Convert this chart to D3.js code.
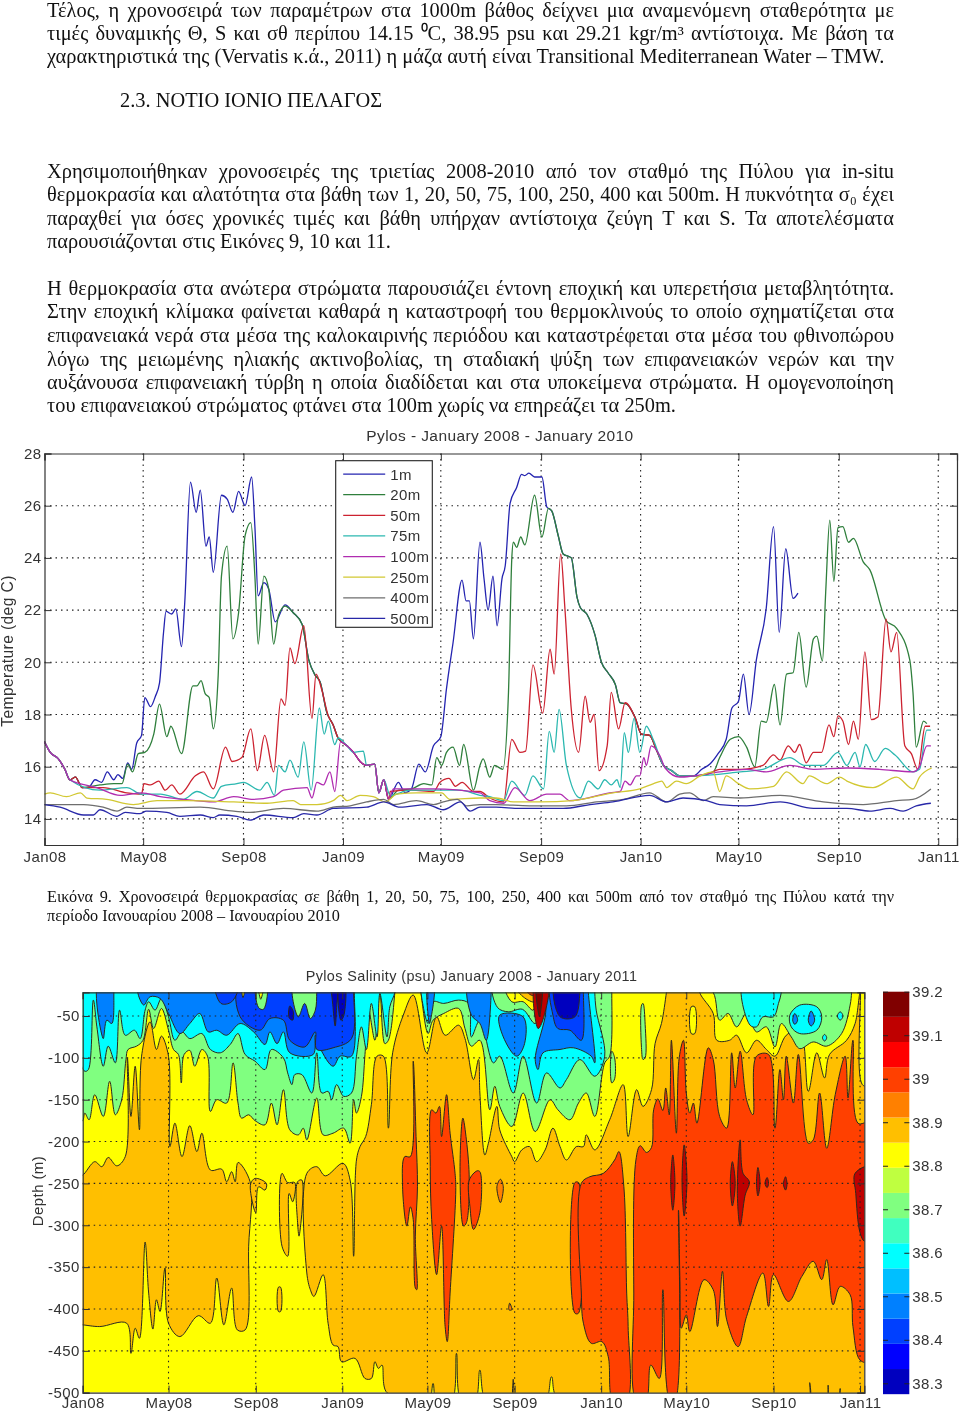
<!DOCTYPE html>
<html>
<head>
<meta charset="utf-8">
<script src="https://cdn.jsdelivr.net/npm/d3@7"></script>
<style>
body { margin: 0; background: #fff; }
svg { display: block; filter: blur(0.35px); }
.serif { font-family: "Liberation Serif", serif; fill: #111; }
.sans { font-family: "Liberation Sans", sans-serif; fill: #333; font-size: 15px; letter-spacing: 0.4px; }
</style>
</head>
<body>
<div id="page"></div>
<script>
///////////////////////////////////////////////////////////////////////////
//////////////////////////// Page text ////////////////////////////////////
///////////////////////////////////////////////////////////////////////////

var bodyLines = [
	[17, "Τέλος, η χρονοσειρά των παραμέτρων στα 1000m βάθος δείχνει μια αναμενόμενη σταθερότητα με", 1],
	[40, "τιμές δυναμικής Θ, S και σθ περίπου 14.15 ⁰C, 38.95 psu και 29.21 kgr/m³ αντίστοιχα. Με βάση τα", 1],
	[63, "χαρακτηριστικά της (Vervatis κ.ά., 2011) η μάζα αυτή είναι Transitional Mediterranean Water – TMW.", 0],
	[178, "Χρησιμοποιήθηκαν χρονοσειρές της τριετίας 2008-2010 από τον σταθμό της Πύλου για in-situ", 1],
	[201, "θερμοκρασία και αλατότητα στα βάθη των 1, 20, 50, 75, 100, 250, 400 και 500m. Η πυκνότητα σ₀ έχει", 1],
	[225, "παραχθεί για όσες χρονικές τιμές και βάθη υπήρχαν αντίστοιχα ζεύγη Τ και S. Τα αποτελέσματα", 1],
	[248, "παρουσιάζονται στις Εικόνες 9, 10 και 11.", 0],
	[295, "Η θερμοκρασία στα ανώτερα στρώματα παρουσιάζει έντονη εποχική και υπερετήσια μεταβλητότητα.", 1],
	[318, "Στην εποχική κλίμακα φαίνεται καθαρά η καταστροφή του θερμοκλινούς το οποίο σχηματίζεται στα", 1],
	[342, "επιφανειακά νερά στα μέσα της καλοκαιρινής περιόδου και καταστρέφεται στα μέσα του φθινοπώρου", 1],
	[366, "λόγω της μειωμένης ηλιακής ακτινοβολίας, τη σταδιακή ψύξη των επιφανειακών νερών και την", 1],
	[389, "αυξάνουσα επιφανειακή τύρβη η οποία διαδίδεται και στα υποκείμενα στρώματα. Η ομογενοποίηση", 1],
	[412, "του επιφανειακού στρώματος φτάνει στα 100m χωρίς να επηρεάζει τα 250m.", 0]
];
var captionLines = [
	[902, "Εικόνα 9. Χρονοσειρά θερμοκρασίας σε βάθη 1, 20, 50, 75, 100, 250, 400 και 500m από τον σταθμό της Πύλου κατά την", 1],
	[921, "περίοδο Ιανουαρίου 2008 – Ιανουαρίου 2010", 0]
];

///////////////////////////////////////////////////////////////////////////
////////////////////////// Shared axis data ///////////////////////////////
///////////////////////////////////////////////////////////////////////////

//days since 1 Jan 2008
var monthDays = [0, 121, 244, 366, 486, 609, 731, 851, 974, 1096],
	monthLabels = ["Jan08", "May08", "Sep08", "Jan09", "May09", "Sep09", "Jan10", "May10", "Sep10", "Jan11"];

///////////////////////////////////////////////////////////////////////////
///////////////////////// Temperature series //////////////////////////////
///////////////////////////////////////////////////////////////////////////

//[day, deg C] stretches where the mixed layer makes the depths run together
var winter08 = [[0,16.96],[7,16.55],[17,16.3],[25,15.9],[31,15.5],[38,15.6],[46,15.2]];
var cooling08 = [[324,20.1],[332,19.5],[338,19.25],[346,18.1],[354,17.6],[360,17.1]];
var winter09 = [[371,16.8],[379,16.55],[387,16.2],[395,16.05],[405,16.1],[410,15],[416,15.5],[422,14.75]];
var cooling09 = [[646,24],[653,22.5],[657,22.1],[665,21.85],[675,21.05],[683,20],[691,19.6],[700,19.15],[706,18.45],[714,18.4]];
var coolEnd09 = [[724,17.9],[732,17.25],[742,17.2],[751,16.6],[759,16.05]];
var winter10 = [[769,15.85],[779,15.65],[796,15.65]];

var temp1m = [...winter08,[54,15.2],[62,15.5],[70,15.4],[77,15.8],[85,15.5],[90,15.7],[96,15.55],[102,16.15],[107,15.9],[113,16.9],[119,17.2],[123,18.65],[130,18.3],[136,18.7],[141,19.2],[146,21.15],[149,21.95],[156,21.85],[161,22.05],[168,20.6],[172,22.3],[179,26.9],[186,25.75],[191,26.6],[198,24.45],[202,24.8],[207,23.45],[217,26.4],[224,26.25],[231,25.75],[238,26.55],[246,26],[254,27.1],[258,25.2],[262,22.55],[269,23.05],[275,22.8],[283,21.55],[295,22.2],[305,21.9],[316,21.45],...cooling08,...winter09,[434,15.4],[442,15],[450,15.15],[459,16.1],[467,15.8],[477,16.8],[486,17.15],[493,19],[501,20.75],[512,23.15],[517,22.35],[521,22.35],[526,20.9],[534,24.6],[539,23.2],[544,22],[550,23.3],[555,21.4],[561,23.2],[565,23.7],[571,26.1],[579,26.7],[585,27.2],[589,27.15],[594,27.25],[601,27.1],[610,27.1],[616,25.95],[622,25.8],[630,24.85],[636,24.15],...cooling09,...coolEnd09,...winter10,[806,15.9],[816,16.1],[826,16.5],[836,17.05],[843,18.25],[851,18.5],[857,19.55],[864,18],[873,20.1],[885,22.05],[894,25.2],[901,21.15],[909,24.35],[918,22.45],[924,22.65]];

var temp20m = [...winter08,[68,15.3],[85,15.35],[95,15.35],[102,16.1],[108,15.8],[115,16.5],[123,16.55],[134,17.25],[141,18.4],[150,17.15],[155,17.55],[168,16.5],[182,19.1],[187,19.1],[192,19.3],[197,18.8],[202,18.65],[207,17.45],[213,19.5],[217,23.3],[224,24.45],[231,20.9],[238,21.9],[246,24.85],[253,25.35],[258,23.3],[262,20.7],[269,23.3],[275,22.8],[281,20.7],[287,21.8],[295,22.15],[305,21.9],[316,21.45],...cooling08,...winter09,[434,15.1],[450,15.15],[465,15.35],[475,15.3],[481,16.35],[487,16.05],[493,16.55],[501,16.75],[509,16.05],[514,16.85],[526,15.1],[534,16.05],[538,16.3],[546,15.6],[552,16.05],[562,15.9],[569,18.85],[573,23.95],[575,24.6],[579,24.4],[584,24.8],[589,24.5],[601,26.4],[610,24.8],[618,25.9],[622,25.8],[630,24.85],[636,24.15],...cooling09,...coolEnd09,...winter10,[820,15.8],[828,16.35],[841,17.05],[851,17.15],[861,16.75],[871,16],[879,17.75],[885,17.7],[895,19.15],[902,17.6],[910,19.55],[918,19.6],[925,21.15],[934,19.05],[943,20.9],[947,21],[954,20.05],[958,22.7],[963,25.45],[968,23.1],[973,25.15],[979,25.2],[986,24.6],[992,24.75],[1004,23.85],[1012,23.55],[1032,21.6],[1045,21.3],[1061,20.1],[1065,18.85],[1069,16.75],[1078,17.75],[1082,17.65]];

var temp50m = [...winter08,[56,15.2],[72,15.2],[101,15],[119,14.95],[122,15.35],[130,15.3],[140,15.45],[148,15.1],[156,15.3],[166,14.95],[185,15.65],[195,15.8],[207,15.15],[222,16.75],[230,16.2],[242,16.35],[253,17.45],[261,15.85],[270,17.2],[281,15.8],[290,18.6],[295,18.35],[301,20.55],[307,19.95],[318,21.4],[328,17.85],[333,19.55],[340,18.95],[348,17.95],...cooling08.slice(4),...winter09,[424,15.05],[450,15.1],[477,15.05],[485,15.4],[496,15.55],[504,15.25],[512,15.4],[526,15.05],[534,15.05],[546,14.8],[563,14.65],[573,17.05],[583,16.55],[590,16.6],[599,19.9],[611,18.05],[620,20.5],[625,19.55],[633,24.15],[638,22.15],[646,18.2],[655,16.55],[663,18.7],[669,17.7],[674,18],[680,15.85],[690,16.8],[695,18.85],[704,17.45],[712,18.45],...coolEnd09,...winter10,[812,15.7],[828,15.9],[853,15.9],[881,16.05],[894,16.45],[902,16.25],[912,16.8],[920,16.55],[926,16.85],[934,16.15],[943,16.55],[953,16.55],[962,17.6],[968,17.15],[973,17.95],[979,17.75],[986,16.85],[992,17.75],[998,17.05],[1006,20.4],[1014,17.8],[1022,17.9],[1032,21.65],[1038,20.4],[1045,21.15],[1055,16.8],[1063,16.5],[1071,15.9],[1080,17.55],[1086,17.55]];

var temp75m = [...winter08.slice(0,5),[68,15.1],[101,15.2],[119,14.95],[142,14.95],[170,14.75],[187,15.05],[207,14.8],[217,15.25],[236,15.35],[244,15.4],[264,15.1],[273,15.4],[282,14.9],[287,16.05],[295,15.8],[301,16.25],[311,15.6],[318,16.95],[327,15.1],[337,18.25],[343,17.25],[348,17.75],[356,16.85],[360,17.1],[371,16.8],[379,16.55],[391,16.6],[395,16.05],[405,16.1],[410,15],[416,15.5],[424,14.9],[448,15.1],[485,15.1],[510,15.1],[534,14.9],[546,14.85],[563,14.7],[573,15.45],[589,14.9],[599,15.65],[612,15.15],[619,17.35],[625,16.55],[631,18.2],[640,16.05],[657,14.8],[667,15.45],[679,15.15],[687,15.5],[695,15.3],[702,15.5],[706,15.2],[711,17.3],[716,16.55],[723,17.85],[730,16.55],[738,17.55],[747,17],[759,16.05],...winter10,[853,15.8],[881,15.9],[914,16.35],[932,16.05],[955,16.05],[973,16.55],[984,16.05],[994,16.55],[1000,16],[1007,16.85],[1018,16.2],[1031,16.7],[1043,16.45],[1065,15.8],[1073,15.9],[1082,17.4],[1087,17.4]];

var temp100m = [...winter08.slice(0,5),[64,15.2],[93,14.9],[119,15],[142,14.85],[170,14.75],[207,14.65],[232,14.85],[256,14.75],[281,14.85],[293,15.1],[322,15.2],[328,14.8],[334,15.4],[342,15.3],[350,15.8],[356,15.05],[363,16.95],...winter09,[428,15.15],[477,15.15],[534,15],[546,14.7],[563,14.6],[577,15.2],[595,14.7],[616,14.95],[632,14.95],[644,14.7],[673,14.85],[693,15],[706,15.05],[712,15.45],[718,15.3],[726,15.65],[730,15.65],[735,16.35],[738,16.05],[744,16.8],[755,16.4],[761,15.95],[779,15.6],[796,15.65],[828,15.8],[861,15.9],[885,15.8],[914,16.05],[943,15.9],[984,15.95],[1024,15.9],[1065,15.8],[1073,16],[1082,16.8],[1087,16.8]];

var temp250m = [[0,14.95],[7,15],[27,14.85],[44,15],[52,14.8],[76,14.75],[109,14.55],[138,14.7],[175,14.7],[232,14.65],[273,14.6],[305,14.7],[314,14.55],[334,14.55],[354,14.7],[363,14.9],[371,14.7],[387,14.9],[403,14.85],[418,14.65],[432,14.95],[456,15],[487,15],[497,14.75],[534,14.8],[554,14.8],[575,14.65],[608,14.65],[648,14.7],[697,15],[730,15.15],[747,15.35],[757,15.45],[763,15.2],[775,15.45],[787,15.35],[804,15.65],[820,15.8],[828,15.05],[836,15.65],[851,15.35],[865,15.15],[894,15.25],[910,15.8],[930,15.35],[938,15.65],[959,15.35],[975,15.6],[984,15.45],[1016,15.2],[1045,15.6],[1065,15.15],[1073,15.6],[1088,15.95]];

var temp400m = [[0,14.55],[48,14.55],[72,14.45],[89,14.3],[101,14.45],[117,14.4],[191,14.45],[232,14.3],[252,14.25],[293,14.4],[334,14.3],[354,14.45],[375,14.5],[395,14.65],[416,14.75],[428,14.55],[456,14.7],[477,14.55],[489,14.65],[506,14.75],[518,14.5],[534,14.55],[554,14.55],[595,14.5],[640,14.5],[677,14.65],[710,14.75],[742,15],[763,14.65],[779,14.95],[791,15],[808,14.7],[820,14.85],[853,14.8],[902,14.9],[955,14.65],[1004,14.55],[1045,14.7],[1065,14.75],[1087,15.15]];

var temp500m = [[0,14.55],[19,14.45],[48,14.15],[60,14.15],[68,14.35],[89,14.1],[99,14.25],[117,14.2],[125,14.3],[150,14.25],[166,14.1],[191,14.15],[207,14.05],[215,14.15],[236,14.1],[252,13.95],[269,14.15],[305,14.05],[318,14.2],[334,14.15],[354,14.4],[395,14.45],[416,14.65],[436,14.45],[469,14.55],[489,14.35],[510,14.65],[522,14.3],[534,14.45],[554,14.45],[583,14.4],[636,14.4],[669,14.55],[697,14.65],[742,14.9],[763,14.65],[783,14.8],[812,14.7],[828,14.55],[861,14.5],[902,14.65],[943,14.4],[984,14.4],[1012,14.3],[1037,14.4],[1053,14.3],[1069,14.5],[1087,14.6]];

var depthNames = ["1m", "20m", "50m", "75m", "100m", "250m", "400m", "500m"],
	depthSeries = [temp1m, temp20m, temp50m, temp75m, temp100m, temp250m, temp400m, temp500m],
	depthColors = ["#2424b0", "#2f7f3c", "#cc2230", "#2cb8b0", "#b02cb0", "#d2c832", "#6e6e6e", "#2828a8"],
	tempTicks = [14, 16, 18, 20, 22, 24, 26, 28];

///////////////////////////////////////////////////////////////////////////
///////////////////////// Salinity isohalines /////////////////////////////
///////////////////////////////////////////////////////////////////////////

//Outlines as [day, depth], points outside the axes are clipped away
var amberBlockA = [[-5,-240],[0,-240],[17,-224],[27,-230],[36,-219],[48,-229],[60,-218],[63,-100],[68,-170],[74,-110],[80,-186],[83,-98],[95,-57],[104,-90],[111,-74],[121,-98],[123,-206],[130,-178],[140,-218],[151,-181],[161,-212],[168,-190],[180,-234],[196,-233],[203,-248],[210,-236],[215,-248],[219,-225],[236,-248],[234,-325],[229,-425],[218,-425],[210,-375],[199,-419],[189,-363],[180,-417],[163,-408],[137,-433],[121,-417],[116,-351],[109,-403],[104,-389],[99,-424],[93,-381],[88,-320],[80,-435],[74,-423],[68,-453],[62,-417],[24,-421],[0,-419],[-5,-419]];
var amberSmallA = [[237,-250],[243,-244],[259,-250],[257,-258],[248,-254],[244,-285],[237,-262]];
var amberSmallB = [[281,-238],[289,-249],[299,-249],[296,-272],[291,-262],[289,-337],[281,-325]];
var amberSmallC = [[303,-248],[309,-246],[305,-313],[303,-297]];
var amberSmallD = [[276,-374],[279,-374],[279,-403],[276,-403]];
var amberBlockB = [[316,-238],[330,-230],[342,-241],[367,-226],[377,-246],[382,-337],[386,-222],[391,-206],[399,-194],[407,-156],[415,-98],[424,-98],[431,-184],[437,-94],[452,-49],[466,-25],[485,-94],[499,-51],[511,-73],[530,-61],[539,-77],[551,-126],[558,-102],[560,-142],[567,-216],[572,-202],[584,-158],[588,-186],[605,-218],[609,-224],[619,-210],[630,-206],[640,-224],[652,-210],[663,-184],[673,-206],[682,-222],[696,-206],[706,-206],[710,-192],[722,-210],[743,-174],[762,-132],[769,-194],[781,-138],[790,-158],[802,-138],[807,-83],[816,-59],[823,-22],[825,-10],[870,-10],[870,-22],[889,-47],[894,-79],[912,-79],[922,-73],[936,-94],[950,-79],[964,-90],[976,-98],[992,-73],[1011,-67],[1023,-140],[1035,-94],[1046,-124],[1053,-96],[1077,-79],[1089,-59],[1096,-23],[1098,-130],[1110,-140],[1110,-510],[1070,-510],[1068,-495],[1065,-510],[1053,-510],[1051,-491],[1049,-510],[1029,-510],[1025,-488],[1023,-510],[672,-510],[661,-481],[652,-510],[609,-510],[607,-484],[605,-510],[569,-510],[560,-473],[553,-510],[534,-510],[527,-453],[520,-510],[499,-510],[494,-489],[487,-510],[429,-500],[422,-467],[417,-471],[412,-463],[407,-483],[398,-483],[384,-459],[365,-463],[360,-445],[353,-443],[346,-417],[339,-359],[326,-385],[321,-377],[316,-357]];
var yellowOval = [[858,-39],[863,-39],[863,-71],[858,-71]];

var redFingerA = [[466,-104],[470,-194],[472,-254],[469,-313],[471,-377],[469,-375],[466,-293],[462,-278],[457,-301],[451,-254],[454,-218],[462,-218]];
var redFingerB = [[492,-162],[498,-166],[503,-158],[506,-194],[513,-144],[518,-190],[525,-238],[526,-258],[518,-381],[514,-439],[511,-421],[506,-301],[499,-359],[492,-293],[490,-230]];
var redFingerC = [[536,-172],[541,-198],[545,-246],[541,-297],[537,-301],[532,-234]];
var redFingerD = [[545,-246],[556,-235],[560,-236],[560,-285],[551,-305],[546,-278]];
var orangeOval = [[584,-254],[589,-245],[593,-254],[589,-273]];
var orangeDot = [[602,-393],[605,-401],[601,-401]];
var redSliver = [[694,-249],[699,-249],[699,-405],[694,-405]];
var redBlockA = [[703,-250],[715,-242],[734,-238],[750,-222],[756,-212],[763,-254],[767,-381],[769,-421],[767,-510],[748,-510],[741,-457],[732,-439],[717,-441],[706,-417],[703,-381]];
var redBlockB = [[780,-222],[786,-205],[795,-213],[802,-207],[805,-162],[811,-149],[818,-163],[822,-136],[827,-168],[830,-79],[837,-190],[841,-100],[847,-79],[851,-142],[856,-166],[861,-154],[866,-178],[882,-88],[889,-102],[898,-170],[908,-184],[915,-94],[920,-136],[927,-92],[936,-150],[945,-168],[950,-98],[967,-96],[976,-184],[983,-114],[988,-150],[992,-98],[1002,-154],[1009,-96],[1023,-202],[1030,-198],[1039,-142],[1049,-208],[1061,-144],[1075,-98],[1079,-148],[1086,-79],[1093,-178],[1110,-178],[1110,-463],[1096,-461],[1086,-421],[1082,-383],[1068,-373],[1058,-395],[1049,-341],[1042,-365],[1030,-343],[1014,-361],[995,-391],[974,-359],[967,-397],[959,-357],[936,-409],[924,-445],[908,-413],[902,-355],[895,-421],[889,-377],[876,-365],[856,-427],[851,-407],[844,-423],[842,-365],[840,-282],[835,-510],[828,-510],[818,-377],[813,-483],[801,-467],[794,-510],[781,-510],[777,-381]];

var darkA = [[832,-216],[835,-250],[832,-282],[829,-250]];
var darkB = [[848,-204],[852,-246],[848,-289],[845,-246]];
var darkC = [[916,-224],[920,-250],[916,-277],[913,-250]];
var darkD = [[927,-198],[931,-238],[940,-248],[934,-264],[927,-301],[923,-262]];
var darkE = [[952,-231],[955,-250],[952,-265],[950,-250]];
var darkF = [[965,-243],[967,-250],[965,-255],[962,-250]];
var darkG = [[991,-242],[993,-251],[991,-258],[988,-251]];
var darkH = [[1110,-230],[1089,-238],[1090,-262],[1096,-309],[1102,-319],[1110,-319]];

var mintMain = [[-5,-10],[-5,-176],[0,-175],[3,-166],[9,-174],[17,-144],[29,-170],[38,-128],[46,-168],[55,-150],[61,-102],[64,-90],[76,-86],[85,-79],[93,-42],[100,-65],[111,-41],[121,-67],[128,-90],[135,-96],[139,-130],[143,-96],[151,-91],[158,-110],[168,-90],[176,-98],[180,-164],[189,-150],[203,-154],[212,-106],[219,-154],[224,-172],[234,-168],[243,-175],[257,-180],[266,-154],[274,-180],[283,-138],[292,-186],[304,-192],[311,-184],[316,-198],[330,-148],[339,-192],[353,-190],[368,-184],[377,-202],[382,-150],[386,-166],[393,-146],[398,-96],[403,-43],[412,-79],[419,-23],[426,-83],[431,-79],[440,-23],[441,-10]];
var mintMiddle = [[475,-10],[477,-23],[487,-71],[494,-55],[509,-47],[530,-41],[539,-65],[548,-86],[560,-79],[574,-162],[581,-134],[588,-158],[605,-182],[621,-142],[638,-188],[659,-150],[670,-162],[687,-174],[699,-154],[710,-142],[722,-170],[736,-106],[743,-98],[746,-22],[746,-10]];
var mintRight = [[870,-10],[889,-22],[898,-55],[910,-47],[922,-63],[936,-47],[950,-69],[964,-63],[976,-87],[985,-59],[999,-75],[1011,-89],[1030,-81],[1049,-86],[1070,-71],[1082,-37],[1084,-22],[1084,-10]];
var mintOvalA = [[746,-92],[750,-100],[750,-125],[746,-130],[744,-110]];
var mintOvalB = [[788,-37],[790,-35],[793,-60],[793,-100],[790,-102],[788,-90]];

var cyanLeft = [[-5,-10],[-5,-100],[3,-116],[8,-114],[15,-31],[20,-63],[29,-110],[36,-86],[46,-106],[52,-43],[60,-73],[73,-67],[81,-77],[88,-43],[93,-33],[102,-43],[111,-29],[121,-51],[130,-79],[140,-69],[151,-77],[168,-71],[180,-90],[194,-94],[208,-84],[219,-71],[229,-96],[243,-104],[257,-114],[266,-90],[283,-100],[289,-118],[295,-132],[299,-120],[309,-120],[323,-142],[330,-94],[337,-142],[346,-140],[351,-150],[358,-132],[368,-146],[379,-142],[386,-98],[393,-63],[400,-90],[407,-35],[415,-75],[419,-23],[429,-75],[433,-39],[440,-22],[440,-10]];
var cyanMiddle = [[477,-10],[477,-22],[487,-59],[494,-33],[509,-35],[530,-31],[544,-35],[548,-75],[560,-55],[579,-106],[588,-98],[607,-142],[621,-98],[640,-154],[654,-118],[673,-136],[682,-126],[701,-102],[722,-122],[736,-98],[724,-43],[722,-22],[722,-10]];
var cyanRight = [[931,-10],[941,-61],[950,-63],[959,-51],[974,-51],[981,-35],[985,-22],[985,-10]];
var cyanBlob = [[997,-49],[1011,-37],[1035,-39],[1042,-51],[1035,-67],[1011,-71],[999,-63]];
var cyanDotA = [[1068,-45],[1072,-50],[1068,-55],[1064,-50]];
var cyanDotB = [[1046,-72],[1049,-76],[1046,-80],[1043,-76]];

var blueA = [[22,-10],[29,-77],[34,-55],[41,-59],[44,-22],[44,-10]];
var blueB = [[79,-10],[86,-37],[95,-27],[109,-29],[121,-47],[137,-71],[151,-59],[165,-47],[177,-69],[189,-67],[203,-73],[222,-59],[241,-69],[257,-84],[264,-69],[274,-83],[283,-69],[292,-94],[325,-96],[328,-73],[335,-89],[353,-110],[363,-98],[379,-98],[383,-22],[383,-10]];
var blueC = [[487,-10],[489,-59],[495,-10]];
var blueD = [[544,-10],[548,-49],[560,-59],[569,-79],[576,-22],[576,-10]];
var blueE = [[588,-49],[621,-51],[623,-83],[612,-98],[593,-75]];
var blueF = [[659,-10],[652,-51],[638,-102],[642,-114],[649,-94],[673,-90],[692,-88],[717,-98],[722,-106],[713,-22],[713,-10]];
var blueDotA = [[1004,-47],[1008,-55],[1004,-60],[1001,-55]];
var blueDotB = [[1027,-44],[1032,-55],[1027,-62],[1023,-55]];

var deepBlueA = [[222,-10],[222,-51],[250,-67],[264,-53],[283,-55],[292,-79],[313,-87],[328,-69],[330,-90],[353,-88],[379,-77],[382,-22],[382,-10]];
var deepBlueB = [[187,-10],[195,-35],[210,-33],[220,-10]];
var deepBlueC = [[661,-10],[663,-49],[670,-65],[687,-67],[703,-79],[706,-22],[706,-10]];

var navyA = [[352,-10],[353,-40],[356,-62],[358,-40],[359,-10]];
var navyB = [[362,-10],[364,-55],[368,-50],[369,-10]];
var navyC = [[292,-38],[297,-45],[296,-55],[291,-52]];
var navyD = [[666,-10],[673,-51],[694,-51],[701,-22],[701,-10]];

//saltier water pushing in at the top of the section
var mintTopA = [[297,-10],[304,-51],[313,-35],[321,-53],[328,-43],[330,-22],[330,-10]];
var mintTopB = [[245,-10],[248,-40],[255,-42],[259,-10]];
var mintTopC = [[579,-10],[585,-40],[600,-45],[620,-42],[638,-59],[649,-22],[649,-10]];
var yellowTopA = [[224,-10],[226,-28],[229,-10]];
var yellowTopB = [[248,-10],[251,-30],[255,-10]];
var yellowTopC = [[595,-10],[605,-33],[621,-33],[635,-43],[640,-10]];
var amberTop = [[607,-10],[621,-27],[638,-33],[641,-10]];
var redTop = [[621,-10],[630,-24],[638,-25],[640,-10]];
var darkTop = [[638,-10],[642,-65],[647,-59],[656,-10]];
var maroonTop = [[640,-10],[644,-51],[647,-10]];

//painting order, low water is laid over the deep core
var salLevels = [38.9,38.9,38.9,38.9,38.9,38.9,38.8,
	39,39,39,39,38.95,38.95,39,39,39,
	39.1,39.1,39.1,39.1,39.1,39.1,39.1,39.1,
	38.7,38.7,38.7,38.7,38.7,
	38.6,38.6,38.6,38.6,38.6,38.6,
	38.5,38.5,38.5,38.5,38.5,38.5,38.5,38.5,
	38.4,38.4,38.4,
	38.3,38.3,38.3,38.3,
	38.7,38.7,38.7,38.8,38.8,38.8,38.9,39,39.1,39.19];
var salOutlines = [amberBlockA,amberSmallA,amberSmallB,amberSmallC,amberSmallD,amberBlockB,yellowOval,
	redFingerA,redFingerB,redFingerC,redFingerD,orangeOval,orangeDot,redSliver,redBlockA,redBlockB,
	darkA,darkB,darkC,darkD,darkE,darkF,darkG,darkH,
	mintMain,mintMiddle,mintRight,mintOvalA,mintOvalB,
	cyanLeft,cyanMiddle,cyanRight,cyanBlob,cyanDotA,cyanDotB,
	blueA,blueB,blueC,blueD,blueE,blueF,blueDotA,blueDotB,
	deepBlueA,deepBlueB,deepBlueC,
	navyA,navyB,navyC,navyD,
	mintTopA,mintTopB,mintTopC,yellowTopA,yellowTopB,yellowTopC,amberTop,redTop,darkTop,maroonTop];

var salBackground = 38.8,
	jetColors = ["#0000bf","#0000ff","#0040ff","#0080ff","#00bfff","#00ffff","#40ffbf","#80ff80","#bfff40","#ffff00","#ffbf00","#ff8000","#ff4000","#ff0000","#bf0000","#800000"],
	depthTicks = [-50,-100,-150,-200,-250,-300,-350,-400,-450,-500],
	salTicks = [38.3,38.4,38.5,38.6,38.7,38.8,38.9,39,39.1,39.2];

///////////////////////////////////////////////////////////////////////////
/////////////////////////// Draw the page /////////////////////////////////
///////////////////////////////////////////////////////////////////////////

var svg = d3.select("#page").append("svg")
	.attr("width", 960)
	.attr("height", 1415);

svg.append("rect").attr("width", 960).attr("height", 1415).attr("fill", "#fff");

//Justified lines get their word gaps stretched to the text block width
function writeLines(lines, size) {
	var blockLeft = 47, blockWidth = 847;
	lines.forEach(function(d) {
		var t = svg.append("text")
			.attr("class", "serif")
			.attr("x", blockLeft)
			.attr("y", d[0])
			.style("font-size", size + "px")
			.text(d[1]);
		if (d[2]) {
			var gaps = d[1].split(" ").length - 1,
				extra = (blockWidth - t.node().getComputedTextLength()) / gaps;
			t.style("word-spacing", extra + "px");
		}
	});
}
writeLines(bodyLines, 20.4);
writeLines(captionLines, 16.2);

svg.append("text")
	.attr("class", "serif")
	.attr("x", 120)
	.attr("y", 107)
	.style("font-size", "20.4px")
	.text("2.3. ΝΟΤΙΟ ΙΟΝΙΟ ΠΕΛΑΓΟΣ");

//Dotted grid of a MATLAB axes
function drawGrid(g, x, y, xTicks, yTicks, w, h) {
	var grid = g.append("g").attr("stroke", "#222").attr("stroke-width", 1.1).attr("stroke-dasharray", "1.5,4");
	grid.selectAll(".v").data(xTicks.slice(1)).enter().append("line")
		.attr("x1", function(d) { return x(d); }).attr("x2", function(d) { return x(d); })
		.attr("y1", 0).attr("y2", h);
	grid.selectAll(".h").data(yTicks).enter().append("line")
		.attr("y1", function(d) { return y(d); }).attr("y2", function(d) { return y(d); })
		.attr("x1", 0).attr("x2", w);
}
//Frame with short inner ticks on all four sides
function drawAxes(g, x, y, xTicks, xLabels, yTicks, w, h, xPad) {
	var bottom = g.append("g").attr("transform", "translate(0," + h + ")")
		.call(d3.axisBottom(x).tickValues(xTicks).tickSize(-7).tickPadding(xPad)
			.tickFormat(function(d, i) { return xLabels[i]; }));
	var top = g.append("g").call(d3.axisTop(x).tickValues(xTicks).tickSize(-7).tickFormat(""));
	var left = g.append("g")
		.call(d3.axisLeft(y).tickValues(yTicks).tickSize(-7).tickPadding(3).tickFormat(function(d) { return String(d); }));
	var right = g.append("g").attr("transform", "translate(" + w + ",0)")
		.call(d3.axisRight(y).tickValues(yTicks).tickSize(-7).tickFormat(""));
	[bottom, top, left, right].forEach(function(a) {
		a.selectAll("path").attr("stroke", "#333").attr("stroke-width", 1.2);
		a.selectAll("line").attr("stroke", "#333");
		a.selectAll("text").attr("class", "sans").attr("font-size", null).attr("font-family", null).attr("fill", null);
	});
}

///////////////////////////////////////////////////////////////////////////
//////////////////////// Temperature line chart ///////////////////////////
///////////////////////////////////////////////////////////////////////////

var tempWidth = 957 - 44.5, tempHeight = 391.5;

var tempX = d3.scaleLinear().domain([0, 1119]).range([0, tempWidth]),
	tempY = d3.scaleLinear().domain([13, 28]).range([tempHeight, 0]);

var tempG = svg.append("g").attr("transform", "translate(44.5,453.5)");

drawGrid(tempG, tempX, tempY, monthDays, tempTicks.slice(0, -1), tempWidth, tempHeight);

var tempLine = d3.line()
	.x(function(d) { return tempX(d[0]); })
	.y(function(d) { return tempY(d[1]); })
	.curve(d3.curveMonotoneX);

tempG.selectAll(".depthLine")
	.data(depthSeries)
	.enter().append("path")
	.attr("class", "depthLine")
	.attr("d", tempLine)
	.attr("fill", "none")
	.attr("stroke-width", 1.3)
	.attr("stroke", function(d, i) { return depthColors[i]; });

drawAxes(tempG, tempX, tempY, monthDays, monthLabels, tempTicks, tempWidth, tempHeight, 6);

//Legend
var legend = tempG.append("g").attr("transform", "translate(291.2,7.2)");
legend.append("rect")
	.attr("width", 96.6).attr("height", 166.6)
	.attr("fill", "#fff").attr("stroke", "#222").attr("stroke-width", 1.1);
var legendItem = legend.selectAll(".legendItem")
	.data(depthNames)
	.enter().append("g")
	.attr("class", "legendItem")
	.attr("transform", function(d, i) { return "translate(0," + (13.4 + i * 20.62) + ")"; });
legendItem.append("line")
	.attr("x1", 7.5).attr("x2", 49.5)
	.attr("stroke-width", 1.3)
	.attr("stroke", function(d, i) { return depthColors[i]; });
legendItem.append("text")
	.attr("class", "sans")
	.attr("x", 54.5)
	.attr("dy", "0.36em")
	.text(function(d) { return d; });

svg.append("text")
	.attr("class", "sans")
	.attr("x", 500).attr("y", 441)
	.attr("text-anchor", "middle")
	.style("font-size", "15.5px")
	.text("Pylos - January 2008 - January 2010");

svg.append("text")
	.attr("class", "sans")
	.attr("text-anchor", "middle")
	.attr("transform", "translate(13,651) rotate(-90)")
	.style("font-size", "15.6px")
	.text("Temperature (deg C)");

///////////////////////////////////////////////////////////////////////////
/////////////////////// Salinity contour section //////////////////////////
///////////////////////////////////////////////////////////////////////////

var salWidth = 864.3 - 82.7, salHeight = 400.4;

var salX = d3.scaleLinear().domain([0, 1102]).range([0, salWidth]),
	salY = d3.scaleLinear().domain([-500, -21.7]).range([salHeight, 0]),
	salColor = d3.scaleQuantize().domain([38.275, 39.2]).range(jetColors);

var salG = svg.append("g").attr("transform", "translate(82.7,992.3)");

svg.append("defs").append("clipPath").attr("id", "salClip")
	.append("rect").attr("width", salWidth).attr("height", salHeight);

var salPlot = salG.append("g").attr("clip-path", "url(#salClip)");

salPlot.append("rect")
	.attr("width", salWidth).attr("height", salHeight)
	.attr("fill", salColor(salBackground));

var salShape = d3.line()
	.x(function(d) { return salX(d[0]); })
	.y(function(d) { return salY(d[1]); })
	.curve(d3.curveCatmullRomClosed.alpha(0.5));

salPlot.selectAll(".isohaline")
	.data(salOutlines)
	.enter().append("path")
	.attr("class", "isohaline")
	.attr("d", salShape)
	.attr("fill", function(d, i) { return salColor(salLevels[i]); })
	.attr("stroke", "#2a2a20")
	.attr("stroke-width", 1);

drawGrid(salG, salX, salY, monthDays, depthTicks.slice(0, -1), salWidth, salHeight);
drawAxes(salG, salX, salY, monthDays, monthLabels, depthTicks, salWidth, salHeight, 5);

svg.append("text")
	.attr("class", "sans")
	.attr("x", 471.5).attr("y", 981)
	.attr("text-anchor", "middle")
	.style("font-size", "14.4px")
	.text("Pylos Salinity (psu) January 2008 - January 2011");

svg.append("text")
	.attr("class", "sans")
	.attr("text-anchor", "middle")
	.attr("transform", "translate(43,1191) rotate(-90)")
	.text("Depth (m)");

//Colorbar
var barWidth = 26.3,
	barScale = d3.scaleLinear().domain([38.3, 39.2]).range([1383.3, 991.7]),
	barBands = d3.range(jetColors.length).map(function(i) { return salColor.invertExtent(jetColors[i]); });

var bar = svg.append("g").attr("transform", "translate(883,0)");
bar.selectAll(".band")
	.data(barBands)
	.enter().append("rect")
	.attr("class", "band")
	.attr("width", barWidth)
	.attr("y", function(d) { return barScale(d[1]); })
	.attr("height", function(d) { return barScale(d[0]) - barScale(d[1]); })
	.attr("fill", function(d, i) { return jetColors[i]; });
var barAxis = bar.append("g").attr("transform", "translate(" + barWidth + ",0)")
	.call(d3.axisRight(barScale).tickValues(salTicks).tickSize(-5).tickPadding(3)
		.tickFormat(function(d) { return String(+d.toFixed(1)); }));
barAxis.select("path").attr("d", null);
barAxis.selectAll("line").attr("stroke", "#222");
barAxis.selectAll("text").attr("class", "sans").attr("font-size", null).attr("font-family", null).attr("fill", null);
var barAxisLeft = bar.append("g")
	.call(d3.axisLeft(barScale).tickValues(salTicks).tickSize(-5).tickFormat(""));
barAxisLeft.select("path").attr("d", null);
barAxisLeft.selectAll("line").attr("stroke", "#222");
</script>
</body>
</html>
